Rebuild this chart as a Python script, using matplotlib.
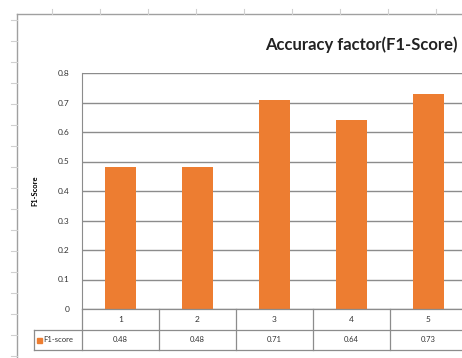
import matplotlib.pyplot as plt
import matplotlib.transforms as mtransforms
from matplotlib.patches import Rectangle

categories = ['1', '2', '3', '4', '5']
f1_scores = [0.48, 0.48, 0.71, 0.64, 0.73]
yticks = [0, 0.1, 0.2, 0.3, 0.4, 0.5, 0.6, 0.7, 0.8]
series_name = 'F1-score'
title = 'Accuracy factor(F1-Score)'

orange = '#ED7D31'
grid_grey = '#8c8c8c'
plt.rcParams['font.family'] = ['Lato', 'DejaVu Sans']

W, H = 462, 358
fig = plt.figure(figsize=(W / 100, H / 100), dpi=100)

def fx(px):
    return px / W

def fy(py):
    return 1 - py / H

# plot area (right edge runs past the figure, as in the cropped sheet)
left_px, right_px, top_px, bot_px = 82, 467, 73, 309
ax = fig.add_axes([fx(left_px), fy(bot_px), fx(right_px - left_px), (bot_px - top_px) / H])
x = range(len(categories))
ax.bar(x, f1_scores, width=0.39, color=orange, zorder=3)
ax.set_xlim(-0.5, len(categories) - 0.5)
ax.set_ylim(0, 0.8)
ax.set_yticks(yticks)
ax.set_yticklabels([f'{v:g}' for v in yticks], fontsize=6, color='#333333')
ax.set_xticks([])
ax.yaxis.grid(True, color=grid_grey, linewidth=1.0, zorder=0)
for s in ['top', 'right', 'bottom']:
    ax.spines[s].set_visible(False)
ax.spines['left'].set_color(grid_grey)
ax.tick_params(axis='y', length=0, pad=9)
ax.set_ylabel('F1-Score', fontsize=5.5, fontweight='bold', labelpad=14)

# data table under the plot
row1_px, row2_px = 330, 350
tab_left_px = 34
line_kw = dict(color=grid_grey, linewidth=0.9)
fig.add_artist(plt.Line2D([fx(left_px), 1], [fy(bot_px)] * 2, **line_kw))
fig.add_artist(plt.Line2D([fx(tab_left_px), 1], [fy(row1_px)] * 2, **line_kw))
fig.add_artist(plt.Line2D([fx(tab_left_px), 1], [fy(row2_px)] * 2, **line_kw))
fig.add_artist(plt.Line2D([fx(tab_left_px)] * 2, [fy(row1_px), fy(row2_px)], **line_kw))
fig.add_artist(plt.Line2D([fx(left_px)] * 2, [fy(bot_px), fy(row2_px)], **line_kw))

trans = mtransforms.blended_transform_factory(ax.transData, fig.transFigure)
for i, (cat, val) in enumerate(zip(categories, f1_scores)):
    if i < len(categories) - 1:
        fig.add_artist(plt.Line2D([i + 0.5] * 2, [fy(bot_px), fy(row2_px)],
                                  transform=trans, **line_kw))
    ax.text(i, fy((bot_px + row1_px) / 2), cat, transform=trans, ha='center',
            va='center', fontsize=6, color='#333333')
    ax.text(i, fy((row1_px + row2_px) / 2), f'{val:.2f}', transform=trans,
            ha='center', va='center', fontsize=5.5, color='#333333')

fig.add_artist(Rectangle((fx(37), fy(343)), fx(5), 5 / H, color=orange))
fig.text(fx(43), fy(340), series_name, fontsize=5.5, va='center', color='#333333')

# title
fig.text(fx(458), fy(45), title, ha='right', va='center', fontsize=12,
         fontweight='bold', color='#222222')

# chart frame edges, with the sheet's faint row/column marks outside them
edge_kw = dict(color='#a0a0a0', linewidth=1.0)
fig.add_artist(plt.Line2D([fx(17), 1], [fy(14)] * 2, **edge_kw))
fig.add_artist(plt.Line2D([fx(17)] * 2, [fy(14), 0], **edge_kw))
mark_kw = dict(color='#d0d0d0', linewidth=0.8)
for py in range(20, H, 21):
    fig.add_artist(plt.Line2D([fx(11), fx(17)], [fy(py)] * 2, **mark_kw))
for px in range(52, W, 48):
    fig.add_artist(plt.Line2D([fx(px)] * 2, [fy(9), fy(14)], **mark_kw))

fig.savefig('out.png', dpi=100)
